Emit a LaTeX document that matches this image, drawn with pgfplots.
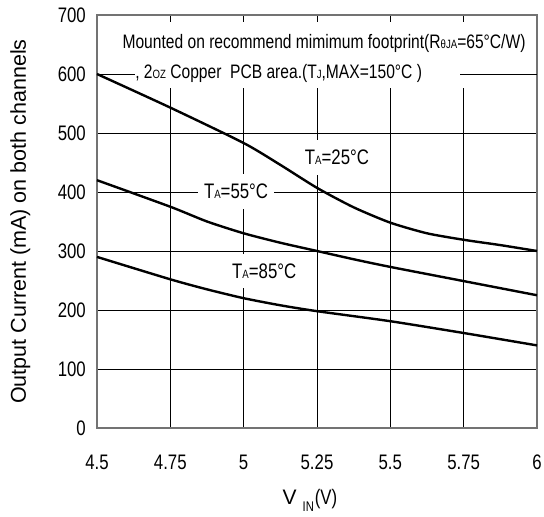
\documentclass[border=0pt]{standalone}
\usepackage{pgfplots}
\pgfplotsset{compat=1.18}
\usepackage{fontspec}
\setmainfont{Liberation Sans}
\newfontfamily\nar[FakeStretch=0.8]{Liberation Sans}
\newcommand{\ta}{T{\fontsize{12}{13}\selectfont A}}
\begin{document}
\begin{tikzpicture}
\begin{axis}[
  name=ax,
  scale only axis, width=440pt, height=413pt,
  xmin=4.5, xmax=6, ymin=0, ymax=700,
  xtick={4.5,4.75,5,5.25,5.5,5.75,6},
  xticklabels={4.5,4.75,5,5.25,5.5,5.75,6},
  ytick={0,100,...,700},
  yticklabels={0,100,200,300,400,500,600,700},
  /pgf/number format/assume math mode=true,
  tick style={draw=none},
  grid=major,
  major grid style={black, line width=0.8pt},
  axis line style={black!55, line width=1.2pt},
  yticklabel style={font=\nar\fontsize{21}{24}\selectfont, anchor=east, inner sep=0pt, xshift=-11pt},
  xticklabel style={font=\nar\fontsize{21}{24}\selectfont, anchor=north, inner sep=0pt, yshift=-27pt},
  xlabel={\fontsize{21}{24}\selectfont V\hspace{6pt}\raisebox{-7pt}{\nar\fontsize{14}{15}\selectfont IN}\hspace{1pt}{\nar(V)}},
  xlabel style={at={(axis description cs:0.484,0)}, anchor=center, yshift=-72pt, inner sep=0pt},
  ylabel={\fontsize{21.5}{24}\selectfont Output Current (mA) on both channels},
  ylabel style={at={(axis description cs:-0.174,0.5)}, anchor=center, rotate=0, inner sep=0pt},
  clip=false,
]
% white band behind the mounting note
\fill[white] (axis cs:4.503,576) rectangle (axis cs:5.997,688);
\draw[black, line width=0.8pt] (axis cs:4.5,600) -- (axis cs:6,600);
\node[fill=white, anchor=west, inner xsep=0pt, inner ysep=3pt,
      font=\nar\fontsize{19.5}{22}\selectfont] at (axis cs:4.63,601)
  {\makebox[325pt][l]{, 2{\fontsize{12}{13}\selectfont OZ} Copper\ \ PCB area.(T{\fontsize{12}{13}\selectfont J},MAX=150°C )}};
\node[font=\nar\fontsize{19.5}{22}\selectfont] at (axis cs:5.274,652)
  {Mounted on recommend mimimum footprint(R{\fontsize{12}{13}\selectfont θJA}=65°C/W)};

\addplot[black, line width=2.4pt, smooth, tension=0.4] coordinates {
  (4.5,600) (4.75,543) (5,483) (5.125,446) (5.25,407) (5.375,374)
  (5.5,348) (5.625,330) (5.75,319) (5.875,310) (6,300)
};
\addplot[black, line width=2.4pt, smooth, tension=0.4] coordinates {
  (4.5,420) (4.75,375) (4.875,350) (5,330) (5.125,314) (5.25,300)
  (5.375,286) (5.5,273) (5.75,249) (6,225)
};
\addplot[black, line width=2.4pt, smooth, tension=0.4] coordinates {
  (4.5,290) (4.75,252) (4.875,235) (5,220) (5.125,208) (5.25,198)
  (5.5,181) (5.75,161) (6,140)
};

\node[fill=white, inner xsep=6pt, inner ysep=10pt, font=\nar\fontsize{21}{24}\selectfont]
  at (axis cs:5.318,459) {\ta=25°C};
\node[fill=white, inner xsep=6pt, inner ysep=10pt, font=\nar\fontsize{21}{24}\selectfont]
  at (axis cs:4.974,401) {\ta=55°C};
\node[fill=white, inner xsep=6pt, inner ysep=10pt, font=\nar\fontsize{21}{24}\selectfont]
  at (axis cs:5.07,266) {\ta=85°C};
\end{axis}
\pgfresetboundingbox
\useasboundingbox ([shift={(-97pt,-89pt)}]ax.south west) rectangle ([shift={(7pt,15pt)}]ax.north east);
\end{tikzpicture}
\end{document}
